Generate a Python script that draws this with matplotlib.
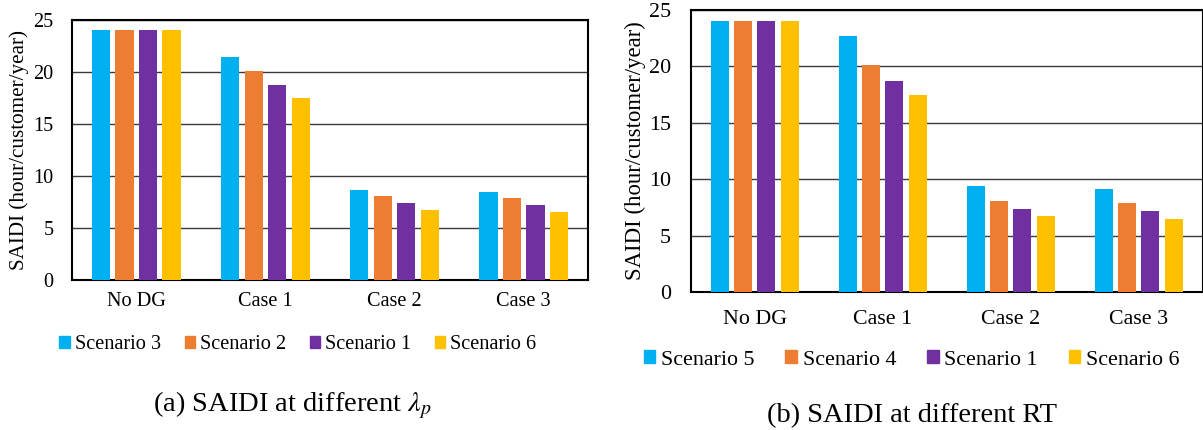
import matplotlib
matplotlib.use('Agg')
import matplotlib.pyplot as plt
import numpy as np
from matplotlib.patches import Patch

plt.rcParams['font.family'] = ['Liberation Serif', 'DejaVu Serif']
plt.rcParams['mathtext.fontset'] = 'stix'

cases = ['No DG', 'Case 1', 'Case 2', 'Case 3']
colors = ['#00B0F0', '#ED7D31', '#7030A0', '#FFC000']

# (a) different lambda_p
labels_a = ['Scenario 3', 'Scenario 2', 'Scenario 1', 'Scenario 6']
scen3 = [24.0, 21.4, 8.7, 8.5]
scen2 = [24.0, 20.1, 8.05, 7.85]
scen1 = [24.0, 18.75, 7.37, 7.18]
scen6 = [24.0, 17.47, 6.7, 6.51]

# (b) different RT
labels_b = ['Scenario 5', 'Scenario 4', 'Scenario 1', 'Scenario 6']
scen5 = [24.0, 22.7, 9.38, 9.17]
scen4 = [24.0, 20.1, 8.07, 7.9]
scen1b = [24.0, 18.75, 7.4, 7.2]
scen6b = [24.0, 17.43, 6.72, 6.5]

W, H = 1203, 430
fig = plt.figure(figsize=(W / 100, H / 100), dpi=100)


def panel(rect, series, labels, fs, pad, leg_xy, colgap):
    ax = fig.add_axes(rect)
    x = np.arange(len(cases))
    pitch, bw = 0.182, 0.142
    for i, (vals, c) in enumerate(zip(series, colors)):
        ax.bar(x + (i - 1.5) * pitch, vals, bw, color=c, edgecolor='none', zorder=3)
    ax.set_xlim(-0.5, len(cases) - 0.5)
    ax.set_ylim(0, 25)
    ax.set_yticks([0, 5, 10, 15, 20, 25])
    ax.set_xticks(x)
    ax.set_xticklabels(cases, fontsize=fs)
    ax.tick_params(axis='both', length=0, labelsize=fs)
    ax.tick_params(axis='x', pad=pad)
    ax.tick_params(axis='y', pad=fs * 0.9)
    ax.yaxis.grid(True, color='#3a3a3a', lw=1.0, zorder=0)
    for s in ax.spines.values():
        s.set_linewidth(1.5)
        s.set_color('black')
    ax.set_ylabel('SAIDI (hour/customer/year)', fontsize=fs + 0.6)
    handles = [Patch(color=c) for c in colors]
    fig.legend(handles, labels, loc='center', bbox_to_anchor=leg_xy, ncol=4,
               frameon=False, fontsize=fs, handlelength=0.53, handleheight=0.53,
               handletextpad=0.25, columnspacing=colgap, borderpad=0)
    return ax


ax1 = panel([71.7 / W, 150 / H, 516.6 / W, 260 / H],
            [scen3, scen2, scen1, scen6], labels_a, 14.6, 8.5,
            (298 / W, 1 - 344.5 / H), 1.14)
ax1.yaxis.set_label_coords(-0.082, 0.5)

ax2 = panel([690.7 / W, 138 / H, 512.0 / W, 282 / H],
            [scen5, scen4, scen1b, scen6b], labels_b, 15.8, 13,
            (911.5 / W, 1 - 360 / H), 1.41)
ax2.yaxis.set_label_coords(-0.088, 0.5)

fig.text(153 / W, 1 - 405 / H, r'(a) SAIDI at different $\lambda_p$', fontsize=20.5,
         ha='left', va='center')
fig.text(767 / W, 1 - 416 / H, '(b) SAIDI at different RT', fontsize=20.5,
         ha='left', va='center')

fig.savefig('out.png', dpi=100)
